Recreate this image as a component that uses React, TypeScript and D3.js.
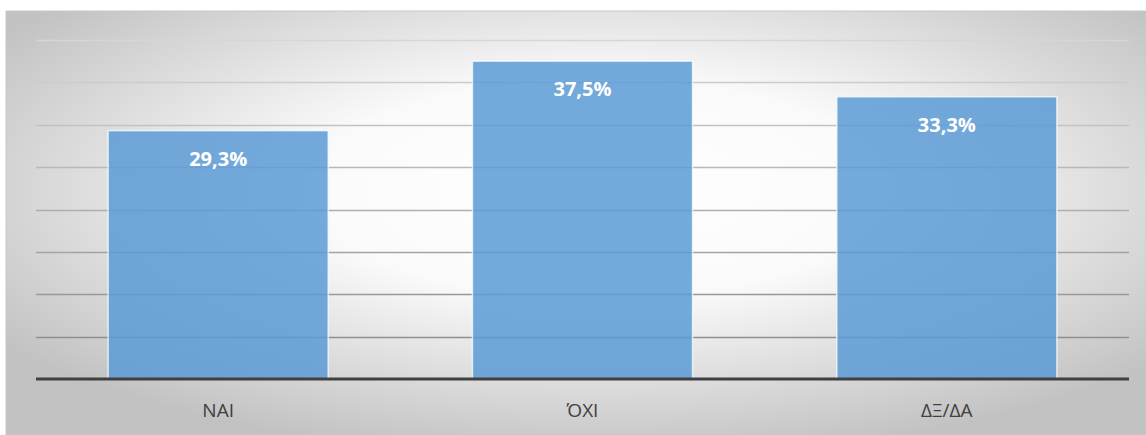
import { useEffect, useRef } from "react";
import * as d3 from "d3";

const categories = ["ΝΑΙ", "ΌΧΙ", "ΔΞ/ΔΑ"];
const values = [29.3, 37.5, 33.3];
const gridTicks = [0, 5, 10, 15, 20, 25, 30, 35, 40];

const W = 1146;
const H = 435;

export default function App() {
  const svgRef = useRef<SVGSVGElement>(null);

  useEffect(() => {
    if (!svgRef.current) return;
    const svg = d3.select(svgRef.current);
    svg.selectAll("*").remove();

    const frame = { left: 6, top: 11, right: 1146, bottom: 435 };
    const plot = { left: 36, right: 1129, top: 40, bottom: 379 };

    // background gradient (white centre, grey edges)
    const defs = svg.append("defs");
    const bg = defs
      .append("radialGradient")
      .attr("id", "bg")
      .attr("cx", "52%")
      .attr("cy", "42%")
      .attr("r", "64%");
    bg.append("stop").attr("offset", "0%").attr("stop-color", "#ffffff");
    bg.append("stop").attr("offset", "40%").attr("stop-color", "#fafafa");
    bg.append("stop").attr("offset", "100%").attr("stop-color", "#c2c2c2");

    svg
      .append("rect")
      .attr("x", frame.left)
      .attr("y", frame.top)
      .attr("width", frame.right - frame.left)
      .attr("height", frame.bottom - frame.top)
      .attr("fill", "url(#bg)")
      .attr("stroke", "#c8c8c8")
      .attr("stroke-width", 1);

    const x = d3
      .scaleBand<string>()
      .domain(categories)
      .range([plot.left, plot.right])
      .paddingInner(0.396)
      .paddingOuter(0.198);

    const y = d3.scaleLinear().domain([0, 40]).range([plot.bottom, plot.top]);

    const gridColor = d3.scaleLinear<string>().domain([40, 0]).range(["#d6d6d6", "#858585"]);

    svg
      .append("g")
      .selectAll("line")
      .data(gridTicks.filter((d) => d > 0))
      .join("line")
      .attr("x1", plot.left)
      .attr("x2", plot.right)
      .attr("y1", (d) => Math.round(y(d)) + 0.5)
      .attr("y2", (d) => Math.round(y(d)) + 0.5)
      .attr("stroke", (d) => gridColor(d))
      .attr("stroke-width", 1.5);

    const bars = svg.append("g");
    bars
      .selectAll("rect")
      .data(values)
      .join("rect")
      .attr("x", (_, i) => x(categories[i])!)
      .attr("y", (d) => y(d))
      .attr("width", x.bandwidth())
      .attr("height", (d) => y(0) - y(d))
      .attr("fill", "#5b9bd5")
      .attr("fill-opacity", 0.85)
      .attr("stroke", "#ffffff")
      .attr("stroke-opacity", 0.7)
      .attr("stroke-width", 1.5);

    bars
      .selectAll("text")
      .data(values)
      .join("text")
      .attr("x", (_, i) => x(categories[i])! + x.bandwidth() / 2)
      .attr("y", (d) => y(d) + 35)
      .attr("text-anchor", "middle")
      .attr("fill", "#ffffff")
      .style("font-family", "'Open Sans', 'Noto Sans', sans-serif")
      .style("font-size", "20px")
      .style("font-weight", "700")
      .text((d) => `${d.toFixed(1).replace(".", ",")}%`);

    // x axis
    svg
      .append("line")
      .attr("x1", plot.left)
      .attr("x2", plot.right)
      .attr("y1", y(0))
      .attr("y2", y(0))
      .attr("stroke", "#404040")
      .attr("stroke-width", 3);

    svg
      .append("g")
      .selectAll("text")
      .data(categories)
      .join("text")
      .attr("x", (d) => x(d)! + x.bandwidth() / 2)
      .attr("y", 417)
      .attr("text-anchor", "middle")
      .attr("fill", "#404040")
      .style("font-family", "'Open Sans', 'Noto Sans', sans-serif")
      .style("font-size", "19px")
      .text((d) => d);
  }, []);

  return (
    <svg
      ref={svgRef}
      width={W}
      height={H}
      style={{ position: "absolute", left: 0, top: 0, background: "#ffffff" }}
    />
  );
}
